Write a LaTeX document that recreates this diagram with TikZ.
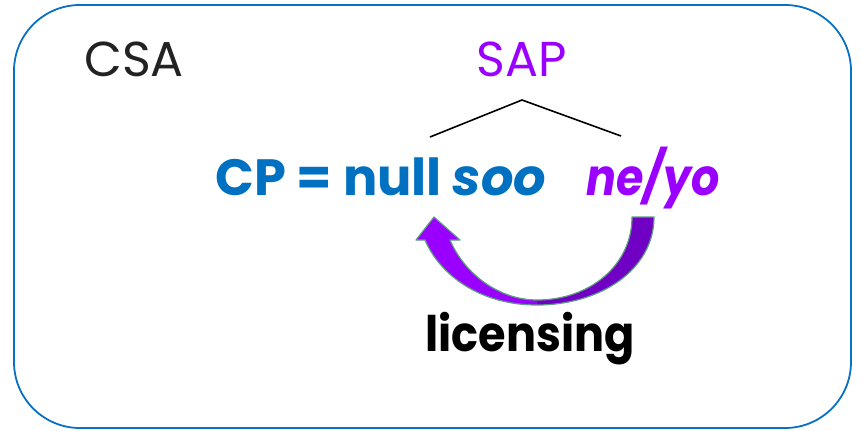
\documentclass[tikz,border=0pt]{standalone}
\usepackage{fontspec}
\usepackage{graphicx}
\setmainfont{Poppins}
\definecolor{frameblue}{HTML}{0A70C2}
\definecolor{cpblue}{HTML}{0070C0}
\definecolor{sappurple}{HTML}{9900FF}
\definecolor{darkpurple}{HTML}{7000C4}
\definecolor{arrowedge}{HTML}{5E9E80}
\definecolor{csagray}{HTML}{222222}
\begin{document}
\begin{tikzpicture}[x=1pt,y=-1pt,
  lbl/.style={inner sep=0pt,anchor=base},
  treeline/.style={draw=black,line width=1.6pt}]
\useasboundingbox (0,0) rectangle (862,431);
\draw[frameblue,line width=1.8pt,rounded corners=66pt] (14,5) rectangle (851,428);
\node[lbl,text=csagray,font=\fontsize{49}{53}\selectfont] (csa) at (134,76) {CSA};
\node[lbl,text=sappurple,font=\fontsize{49}{53}\selectfont] (sap) at (522,76) {SAP};
\coordinate (apex) at (522,100);
\coordinate (lleaf) at (430,137);
\coordinate (rleaf) at (621,136);
\draw[treeline] (lleaf) -- (apex) -- (rleaf);
\node[lbl,anchor=base west,text=cpblue,font=\fontsize{51}{55}\selectfont\bfseries] (cp) at (215,195) {CP = null \textit{soo}};
\node[lbl,anchor=base west,text=sappurple,font=\fontsize{51}{55}\selectfont\bfseries\itshape] (neyo) at (586,195) {\scalebox{0.87}[1]{ne/yo}};
\node[lbl,font=\fontsize{49}{53}\selectfont\bfseries] (lic) at (530,351) {\scalebox{0.91}[1]{licensing}};
% curved block arrow
\fill[sappurple] (537,305) .. controls (480,305) and (440,275) .. (425,240)
  -- (416,240) -- (434,217) -- (460,240) -- (450,240)
  .. controls (465,275) and (500,300) .. (537,300) -- cycle;
\fill[darkpurple] (537,305) .. controls (600,305) and (654,270) .. (654,217)
  -- (632,217) .. controls (632,265) and (590,300) .. (537,300) -- cycle;
\draw[arrowedge,line width=1.2pt,line join=round]
  (654,217) .. controls (654,270) and (600,305) .. (537,305)
  .. controls (480,305) and (440,275) .. (425,240)
  -- (416,240) -- (434,217) -- (460,240) -- (450,240)
  .. controls (465,275) and (500,300) .. (537,300)
  .. controls (590,300) and (632,265) .. (632,217) -- cycle;
\end{tikzpicture}
\end{document}
